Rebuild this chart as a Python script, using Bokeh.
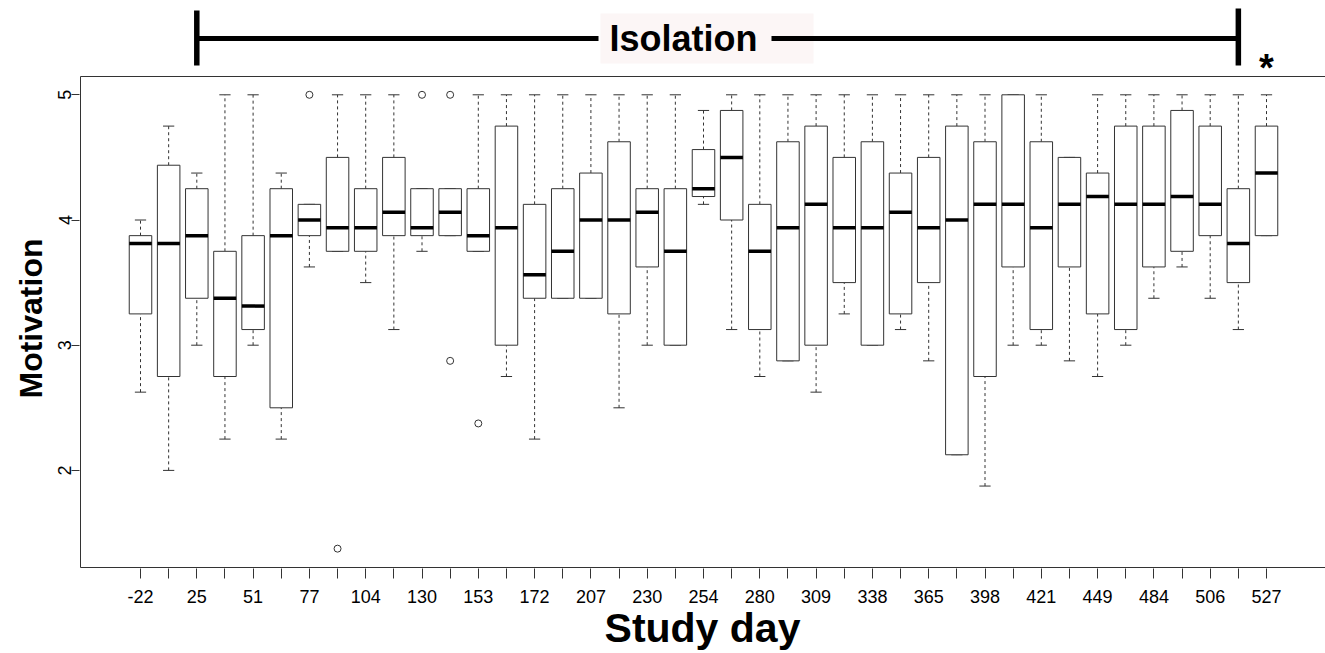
import numpy as np
from bokeh.plotting import figure
from bokeh.models import ColumnDataSource, FixedTicker, Range1d, Title
from bokeh.core.properties import value
from bokeh.embed import file_html
from bokeh.resources import INLINE

# ---- data ----
# study days labelled under every other box (odd box positions)
day_labels = ["-22", "25", "51", "77", "104", "130", "153", "172", "207", "230",
              "254", "280", "309", "338", "365", "398", "421", "449", "484", "506", "527"]

lower_whisker = [2.625, 2.0, 3.0, 2.25, 3.0, 2.25, 3.625, 3.75, 3.5, 3.125,
                 3.75, 3.875, 3.75, 2.75, 2.25, 3.375, 3.375, 2.5, 3.0, 3.0,
                 4.125, 3.125, 2.75, 2.875, 2.625, 3.25, 3.0, 3.125, 2.875, 2.125,
                 1.875, 3.0, 3.0, 2.875, 2.75, 3.0, 3.375, 3.625, 3.375, 3.125, 3.875]
q1 = [3.25, 2.75, 3.375, 2.75, 3.125, 2.5, 3.875, 3.75, 3.75, 3.875,
      3.875, 3.875, 3.75, 3.0, 3.375, 3.375, 3.375, 3.25, 3.625, 3.0,
      4.1875, 4.0, 3.125, 2.875, 3.0, 3.5, 3.0, 3.25, 3.5, 2.125,
      2.75, 3.625, 3.125, 3.625, 3.25, 3.125, 3.625, 3.75, 3.875, 3.5, 3.875]
median = [3.8125, 3.8125, 3.875, 3.375, 3.3125, 3.875, 4.0, 3.9375, 3.9375, 4.0625,
          3.9375, 4.0625, 3.875, 3.9375, 3.5625, 3.75, 4.0, 4.0, 4.0625, 3.75,
          4.25, 4.5, 3.75, 3.9375, 4.125, 3.9375, 3.9375, 4.0625, 3.9375, 4.0,
          4.125, 4.125, 3.9375, 4.125, 4.1875, 4.125, 4.125, 4.1875, 4.125, 3.8125, 4.375]
q3 = [3.875, 4.4375, 4.25, 3.75, 3.875, 4.25, 4.125, 4.5, 4.25, 4.5,
      4.25, 4.25, 4.25, 4.75, 4.125, 4.25, 4.375, 4.625, 4.25, 4.25,
      4.5625, 4.875, 4.125, 4.625, 4.75, 4.5, 4.625, 4.375, 4.5, 4.75,
      4.625, 5.0, 4.625, 4.5, 4.375, 4.75, 4.75, 4.875, 4.75, 4.25, 4.75]
upper_whisker = [4.0, 4.75, 4.375, 5.0, 5.0, 4.375, 4.125, 5.0, 5.0, 5.0,
                 4.25, 4.25, 5.0, 5.0, 5.0, 5.0, 5.0, 5.0, 5.0, 5.0,
                 4.875, 5.0, 5.0, 5.0, 5.0, 5.0, 5.0, 5.0, 5.0, 5.0,
                 5.0, 5.0, 5.0, 4.5, 5.0, 5.0, 5.0, 5.0, 5.0, 5.0, 5.0]
outlier_box = [7, 8, 11, 12, 12, 13]
outlier_value = [5.0, 1.375, 5.0, 5.0, 2.875, 2.375]

isolation_start_box = 3
isolation_end_box = 40
significant_box = 41

# ---- layout / styling constants ----
FONT = "Liberation Sans"
W, H = 1325, 653
LEFT = 79           # frame left edge (px)
BOTTOM_PX = 568     # frame bottom edge (px from top)
BOXW = 0.8
CAPW = 0.4
LINE = "#333333"

# pixel geometry of the reference: box i at 140 + (i-1)*28.15 px; value 5 at 94.3 px, 125.2 px per unit
PX_X, X0_PX = 28.15, 140.0
PX_Y, Y5_PX = 125.2, 94.3


def xv(px):
    return 1 + (px - X0_PX) / PX_X


def yv(py):
    return 5 + (Y5_PX - py) / PX_Y


n = len(q1)
pos = np.arange(1, n + 1)

src = ColumnDataSource(dict(
    x=pos, left=pos - BOXW / 2, right=pos + BOXW / 2,
    capl=pos - CAPW / 2, capr=pos + CAPW / 2,
    lw=lower_whisker, q1=q1, med=median, q3=q3, uw=upper_whisker,
))

p = figure(width=W, height=H,
           x_range=Range1d(xv(LEFT), xv(W)), y_range=Range1d(yv(BOTTOM_PX), yv(0)),
           output_backend="svg", toolbar_location=None,
           min_border_left=LEFT, min_border_right=0, min_border_top=0,
           min_border_bottom=H - BOTTOM_PX)
p.grid.visible = False
p.outline_line_color = None
p.background_fill_color = "white"
p.border_fill_color = "white"

# plot box (frame of the boxplot area, open to the right edge of the picture)
p.quad(left=[xv(80)], right=[xv(W + 20)], bottom=[yv(567)], top=[yv(76)],
       fill_color=None, line_color=LINE, line_width=1)

# whiskers
p.segment(x0="x", y0="q3", x1="x", y1="uw", source=src, line_color=LINE, line_width=1, line_dash="3 3")
p.segment(x0="x", y0="lw", x1="x", y1="q1", source=src, line_color=LINE, line_width=1, line_dash="3 3")
p.segment(x0="capl", y0="uw", x1="capr", y1="uw", source=src, line_color=LINE, line_width=1)
p.segment(x0="capl", y0="lw", x1="capr", y1="lw", source=src, line_color=LINE, line_width=1)
# boxes
p.quad(left="left", right="right", bottom="q1", top="q3", source=src,
       fill_color="white", line_color=LINE, line_width=1)
# medians
p.segment(x0="left", y0="med", x1="right", y1="med", source=src, line_color="black", line_width=3.5)
# outliers
p.scatter(x=outlier_box, y=outlier_value, marker="circle", size=7,
          fill_color=None, line_color=LINE, line_width=1)

# ---- isolation bar above the plot box ----
gap_left, gap_right, label_x = xv(598), xv(771), xv(683)
y_bar = yv(38)
p.quad(left=[xv(600)], right=[xv(813)], bottom=[yv(63)], top=[yv(13)],
       fill_color="#fcf6f6", line_color=None)
p.segment(x0=[isolation_start_box, gap_right], y0=[y_bar, y_bar],
          x1=[gap_left, isolation_end_box], y1=[y_bar, y_bar], line_color="black", line_width=5)
p.segment(x0=[isolation_start_box, isolation_end_box], y0=[yv(65), yv(65)],
          x1=[isolation_start_box, isolation_end_box], y1=[yv(10), yv(8)],
          line_color="black", line_width=5.5)
p.text(x=[label_x], y=[yv(38)], text=["Isolation"], text_font=value(FONT), text_font_style="bold",
       text_font_size="36px", text_align="center", text_baseline="alphabetic", text_color="black")
p.text(x=[significant_box], y=[yv(46)], text=["*"], text_font=value(FONT), text_font_style="bold",
       text_font_size="38px", text_align="center", text_baseline="top", text_color="black")

# ---- x axis ----
odd = [int(v) for v in pos[::2]]
even = [int(v) for v in pos[1::2]]
p.xaxis.ticker = FixedTicker(ticks=odd, minor_ticks=even)
p.xaxis.major_label_overrides = {k: lab for k, lab in zip(odd, day_labels)}
p.xaxis.axis_line_color = None
p.xaxis.major_tick_line_color = LINE
p.xaxis.minor_tick_line_color = LINE
p.xaxis.major_tick_out = 10
p.xaxis.major_tick_in = 0
p.xaxis.minor_tick_out = 10
p.xaxis.minor_tick_in = 0
p.xaxis.major_label_standoff = 11
p.xaxis.major_label_text_font = FONT
p.xaxis.major_label_text_font_size = "18px"
p.xaxis.major_label_text_color = "black"
p.xaxis.major_label_text_line_height = 1.0
p.xaxis.axis_label = "Study day"
p.xaxis.axis_label_text_font = FONT
p.xaxis.axis_label_text_font_style = "bold"
p.xaxis.axis_label_text_font_size = "41px"
p.xaxis.axis_label_text_color = "black"
p.xaxis.axis_label_text_line_height = 1.0
p.xaxis.axis_label_standoff = -1

# ---- y axis ----
p.yaxis.ticker = FixedTicker(ticks=[2, 3, 4, 5], minor_ticks=[])
p.yaxis.axis_line_color = None
p.yaxis.major_tick_line_color = LINE
p.yaxis.major_tick_out = 8
p.yaxis.major_tick_in = 0
p.yaxis.minor_tick_line_color = None
p.yaxis.major_label_orientation = "vertical"
p.yaxis.major_label_standoff = 0
p.yaxis.major_label_text_font = FONT
p.yaxis.major_label_text_font_size = "18px"
p.yaxis.major_label_text_color = "black"

# y-axis title, placed so that it starts (bottom) at the same height as in the reference
ytitle = Title(text="Motivation", align="left", vertical_align="bottom", offset=170, standoff=14,
               text_font=FONT, text_font_style="bold", text_font_size="32px",
               text_color="black")
p.add_layout(ytitle, "left")

open("out.html", "w").write(file_html(p, INLINE))
